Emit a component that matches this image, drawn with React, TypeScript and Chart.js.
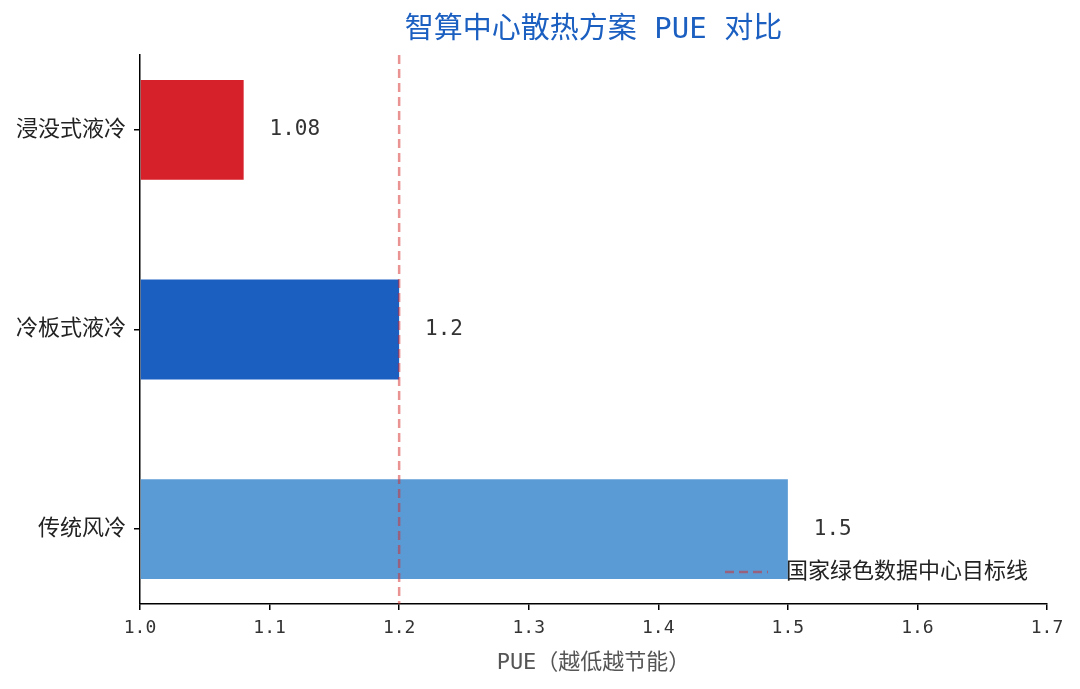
import React, { useEffect, useRef } from "react";
import { Chart, registerables } from "chart.js";

Chart.register(...registerables);

const TITLE = "智算中心散热方案 PUE 对比";
const CATEGORIES = ["浸没式液冷", "冷板式液冷", "传统风冷"];
const PUE_VALUES = [1.08, 1.2, 1.5];
const BAR_COLORS = ["#d7212a", "#1b5fc1", "#5b9bd5"];
const TARGET_LABEL = "国家绿色数据中心目标线";
const TARGET_PUE = 1.2;
const X_TICKS = [1.0, 1.1, 1.2, 1.3, 1.4, 1.5, 1.6, 1.7];
const X_TITLE = "PUE（越低越节能）";
const Y_MIN = -0.375;
const Y_MAX = 2.375;

const FONT = "'DejaVu Sans Mono', 'Noto Sans CJK SC', sans-serif";
const TARGET_COLOR = "rgba(214, 39, 40, 0.5)";

const valueLabels = {
  id: "valueLabels",
  afterDatasetsDraw(chart: any) {
    const { ctx } = chart;
    const xs = chart.scales.x;
    const ys = chart.scales.y;
    ctx.save();
    ctx.font = `21px ${FONT}`;
    ctx.fillStyle = "#333333";
    ctx.textAlign = "left";
    ctx.textBaseline = "middle";
    PUE_VALUES.forEach((v, i) => {
      ctx.fillText(String(v), xs.getPixelForValue(v + 0.02), ys.getPixelForValue(i));
    });
    ctx.restore();
  },
};

const chartTitle = {
  id: "chartTitle",
  afterDraw(chart: any) {
    const { ctx, chartArea } = chart;
    ctx.save();
    ctx.font = `29px ${FONT}`;
    ctx.fillStyle = "#1b5fc1";
    ctx.textAlign = "center";
    ctx.textBaseline = "middle";
    ctx.fillText(TITLE, (chartArea.left + chartArea.right) / 2, chartArea.top - 25);
    ctx.restore();
  },
};

const targetLegend = {
  id: "targetLegend",
  afterDraw(chart: any) {
    const { ctx, chartArea } = chart;
    ctx.save();
    ctx.font = `22px ${FONT}`;
    const tw = ctx.measureText(TARGET_LABEL).width;
    const textX = chartArea.right - 19 - tw;
    const y = chartArea.bottom - 32;
    ctx.strokeStyle = TARGET_COLOR;
    ctx.lineWidth = 2.5;
    ctx.setLineDash([9, 5]);
    ctx.beginPath();
    ctx.moveTo(textX - 61, y);
    ctx.lineTo(textX - 18, y);
    ctx.stroke();
    ctx.setLineDash([]);
    ctx.fillStyle = "#222222";
    ctx.textAlign = "left";
    ctx.textBaseline = "middle";
    ctx.fillText(TARGET_LABEL, textX, y);
    ctx.restore();
  },
};

export default function App() {
  const ref = useRef<HTMLCanvasElement>(null);

  useEffect(() => {
    if (!ref.current) return;
    const chart = new Chart(ref.current, {
      type: "bar",
      data: {
        datasets: [
          {
            type: "line",
            label: TARGET_LABEL,
            data: [
              { x: TARGET_PUE, y: Y_MIN },
              { x: TARGET_PUE, y: Y_MAX },
            ],
            borderColor: TARGET_COLOR,
            borderWidth: 2.5,
            borderDash: [9, 5],
            pointRadius: 0,
            fill: false,
            order: 0,
          } as any,
          {
            type: "bar",
            label: "PUE",
            data: PUE_VALUES.map((v, i) => ({ x: v, y: i })),
            backgroundColor: BAR_COLORS,
            borderWidth: 0,
            base: X_TICKS[0],
            barPercentage: 0.5,
            categoryPercentage: 1,
            order: 1,
          } as any,
        ],
      },
      options: {
        indexAxis: "y",
        animation: false,
        responsive: false,
        devicePixelRatio: 1,
        layout: { padding: { top: 55, left: 0, right: 33, bottom: 0 } },
        plugins: {
          legend: { display: false },
          tooltip: { enabled: false },
          title: { display: false },
        },
        scales: {
          x: {
            type: "linear",
            min: X_TICKS[0],
            max: X_TICKS[X_TICKS.length - 1],
            offset: false,
            afterBuildTicks: (s: any) => {
              s.ticks = X_TICKS.map((v) => ({ value: v }));
            },
            afterFit: (s: any) => {
              s.height = 85;
            },
            ticks: {
              callback: (v: any) => Number(v).toFixed(1),
              color: "#333333",
              font: { family: FONT, size: 18 },
              padding: 8,
              maxRotation: 0,
              autoSkip: false,
            },
            grid: {
              display: true,
              offset: false,
              drawOnChartArea: false,
              drawTicks: true,
              tickLength: 6,
              color: "#000000",
              lineWidth: 1.5,
            },
            border: { display: true, color: "#000000", width: 1.5 },
            title: {
              display: true,
              text: X_TITLE,
              color: "#555555",
              font: { family: FONT, size: 22 },
              padding: { top: 4, bottom: 13 },
            },
          },
          y: {
            type: "linear",
            min: Y_MIN,
            max: Y_MAX,
            reverse: true,
            offset: false,
            afterBuildTicks: (s: any) => {
              s.ticks = CATEGORIES.map((_, i) => ({ value: i }));
            },
            afterFit: (s: any) => {
              s.width = 140;
            },
            ticks: {
              callback: (v: any) => CATEGORIES[Math.round(Number(v))] ?? "",
              color: "#222222",
              font: { family: FONT, size: 22 },
              padding: 8,
              autoSkip: false,
            },
            grid: {
              display: true,
              offset: false,
              drawOnChartArea: false,
              drawTicks: true,
              tickLength: 6,
              color: "#000000",
              lineWidth: 1.5,
            },
            border: { display: true, color: "#000000", width: 1.5 },
          },
        },
      } as any,
      plugins: [valueLabels, chartTitle, targetLegend],
    });
    return () => chart.destroy();
  }, []);

  return (
    <div style={{ position: "fixed", left: 0, top: 0, width: 1080, height: 689, background: "#ffffff" }}>
      <canvas ref={ref} width={1080} height={689} style={{ width: 1080, height: 689, display: "block" }} />
    </div>
  );
}
